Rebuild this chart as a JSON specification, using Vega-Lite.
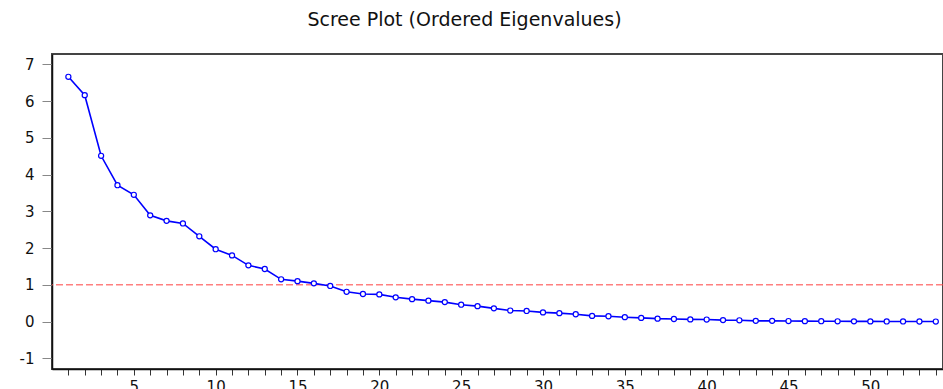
{
  "$schema": "https://vega.github.io/schema/vega-lite/v6.json",
  "autosize": "none",
  "padding": {"left": 52, "top": 54, "right": 0, "bottom": 20},
  "width": 891,
  "height": 315,
  "background": "white",
  "config": {
    "view": {"stroke": "#444444", "strokeWidth": 2},
    "font": "DejaVu Sans"
  },
  "title": {
    "text": "Scree Plot (Ordered Eigenvalues)",
    "fontSize": 19,
    "fontWeight": "normal",
    "font": "DejaVu Sans",
    "color": "#111111",
    "anchor": "middle",
    "dx": -33,
    "offset": 24
  },
  "data": {
    "values": [
      {"n": 1, "ev": 6.66}, {"n": 2, "ev": 6.16}, {"n": 3, "ev": 4.51}, {"n": 4, "ev": 3.71},
      {"n": 5, "ev": 3.45}, {"n": 6, "ev": 2.89}, {"n": 7, "ev": 2.74}, {"n": 8, "ev": 2.67},
      {"n": 9, "ev": 2.32}, {"n": 10, "ev": 1.97}, {"n": 11, "ev": 1.8}, {"n": 12, "ev": 1.53},
      {"n": 13, "ev": 1.43}, {"n": 14, "ev": 1.15}, {"n": 15, "ev": 1.1}, {"n": 16, "ev": 1.04},
      {"n": 17, "ev": 0.97}, {"n": 18, "ev": 0.81}, {"n": 19, "ev": 0.75}, {"n": 20, "ev": 0.74},
      {"n": 21, "ev": 0.66}, {"n": 22, "ev": 0.61}, {"n": 23, "ev": 0.57}, {"n": 24, "ev": 0.53},
      {"n": 25, "ev": 0.46}, {"n": 26, "ev": 0.42}, {"n": 27, "ev": 0.36}, {"n": 28, "ev": 0.3},
      {"n": 29, "ev": 0.29}, {"n": 30, "ev": 0.25}, {"n": 31, "ev": 0.23}, {"n": 32, "ev": 0.2},
      {"n": 33, "ev": 0.155}, {"n": 34, "ev": 0.145}, {"n": 35, "ev": 0.12}, {"n": 36, "ev": 0.1},
      {"n": 37, "ev": 0.08}, {"n": 38, "ev": 0.07}, {"n": 39, "ev": 0.06}, {"n": 40, "ev": 0.055},
      {"n": 41, "ev": 0.04}, {"n": 42, "ev": 0.035}, {"n": 43, "ev": 0.02}, {"n": 44, "ev": 0.02},
      {"n": 45, "ev": 0.015}, {"n": 46, "ev": 0.012}, {"n": 47, "ev": 0.01}, {"n": 48, "ev": 0.008},
      {"n": 49, "ev": 0.006}, {"n": 50, "ev": 0.005}, {"n": 51, "ev": 0.004}, {"n": 52, "ev": 0.003},
      {"n": 53, "ev": 0.002}, {"n": 54, "ev": 0.001}
    ]
  },
  "layer": [
    {
      "data": {"values": [{"ref": 1}]},
      "mark": {"type": "rule", "color": "#FF4040", "strokeWidth": 1, "strokeDash": [7, 3]},
      "encoding": {"y": {"field": "ref", "type": "quantitative"}}
    },
    {
      "mark": {
        "type": "line",
        "color": "#0000FF",
        "strokeWidth": 1.6,
        "point": {"filled": true, "fill": "white", "stroke": "#0000FF", "strokeWidth": 1.2, "size": 26, "shape": "circle"}
      },
      "encoding": {
        "x": {
          "field": "n",
          "type": "quantitative",
          "scale": {"domain": [0, 54.44], "nice": false, "zero": false},
          "axis": {
            "title": null,
            "values": [1,2,3,4,5,6,7,8,9,10,11,12,13,14,15,16,17,18,19,20,21,22,23,24,25,26,27,28,29,30,31,32,33,34,35,36,37,38,39,40,41,42,43,44,45,46,47,48,49,50,51,52,53,54],
            "tickCount": 100,
            "labelExpr": "datum.value % 5 === 0 ? '' + datum.value : ''",
            "labelOverlap": false,
            "grid": false,
            "domainColor": "#111111",
            "domainWidth": 1.5,
            "tickColor": "#333333",
            "tickSize": 6,
            "labelFontSize": 15,
            "labelColor": "#111111",
            "labelPadding": 4,
            "labelFont": "DejaVu Sans"
          }
        },
        "y": {
          "field": "ev",
          "type": "quantitative",
          "scale": {"domain": [-1.29, 7.28], "nice": false, "zero": false},
          "axis": {
            "title": null,
            "values": [-1, 0, 1, 2, 3, 4, 5, 6, 7],
            "tickCount": 20,
            "labelExpr": "'' + datum.value",
            "labelOverlap": false,
            "grid": false,
            "domainColor": "#111111",
            "domainWidth": 1.5,
            "tickColor": "#888888",
            "tickSize": 10,
            "labelFontSize": 15,
            "labelColor": "#111111",
            "labelPadding": 8,
            "labelFont": "DejaVu Sans"
          }
        }
      }
    }
  ]
}
